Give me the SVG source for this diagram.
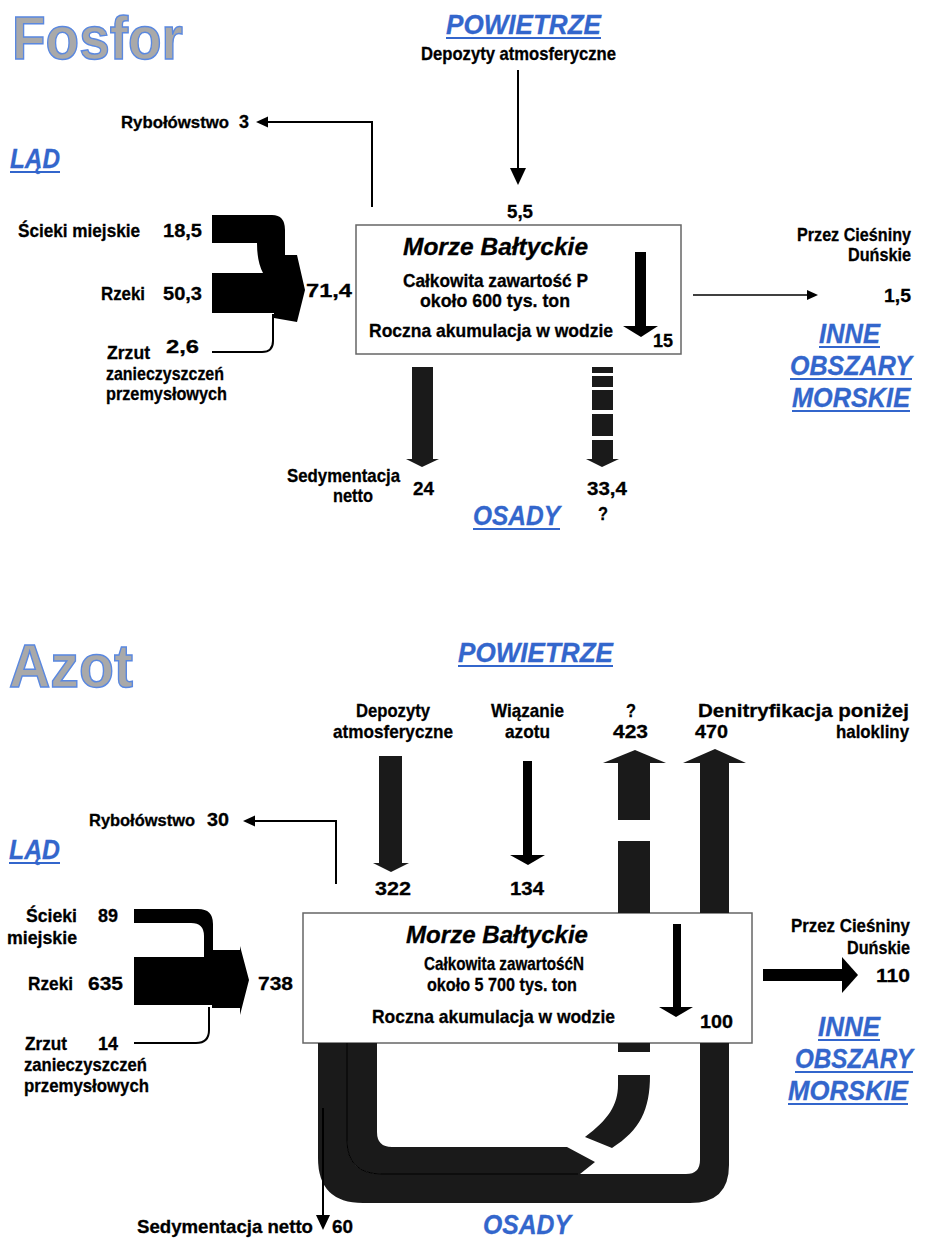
<svg xmlns="http://www.w3.org/2000/svg" width="929" height="1240" viewBox="0 0 929 1240">
<defs>
<style>
text{font-family:"Liberation Sans",Arial,Helvetica,sans-serif;font-weight:bold;font-size:19px;fill:#000;stroke:#000;stroke-width:0.3}
.ttl{font-size:62px;fill:#a9a9a9;stroke:#5a88e0;stroke-width:1.5}
.bl{font-style:italic;font-size:27px;fill:#3366cc;stroke:#3366cc;stroke-width:0.3}
.it{font-style:italic;font-size:24px}
.sm{font-size:16.5px}
.ul{fill:#3366cc}
.ln{fill:none;stroke:#000;stroke-width:2}
.thin{fill:none;stroke:#000;stroke-width:1.5}
.seam{fill:none;stroke:#000;stroke-width:1}
.fl{fill:#1a1a1a}
.bk{fill:#000}
.box{fill:#fff;stroke:#666;stroke-width:1.5}
</style>
</defs>
<rect width="929" height="1240" fill="#fff"/>

<!-- ================= FOSFOR ================= -->
<g id="title-p"><text class="ttl" x="12" y="59" textLength="171" lengthAdjust="spacingAndGlyphs">Fosfor</text></g>

<g id="air-p">
<text class="bl" x="446" y="34" textLength="155" lengthAdjust="spacingAndGlyphs">POWIETRZE</text>
<rect class="ul" x="446" y="37" width="155" height="2"/>
<text x="421" y="60" textLength="195" lengthAdjust="spacingAndGlyphs">Depozyty atmosferyczne</text>
<text x="507" y="218" textLength="26" lengthAdjust="spacingAndGlyphs">5,5</text>
</g>

<g id="land-p">
<text class="bl" x="10" y="168" textLength="50" lengthAdjust="spacingAndGlyphs">LĄD</text>
<rect class="ul" x="10" y="171" width="50" height="2"/>
</g>

<g id="fishing-p">
<text class="sm" x="121" y="128" textLength="108" lengthAdjust="spacingAndGlyphs">Rybołówstwo</text>
<text x="239" y="128" textLength="10" lengthAdjust="spacingAndGlyphs">3</text>
</g>

<g id="sewage-p">
<text x="18" y="237" textLength="122" lengthAdjust="spacingAndGlyphs">Ścieki miejskie</text>
<text x="163" y="237" textLength="39" lengthAdjust="spacingAndGlyphs">18,5</text>
</g>
<g id="rivers-p">
<text x="101" y="300" textLength="44" lengthAdjust="spacingAndGlyphs">Rzeki</text>
<text x="163" y="300" textLength="39" lengthAdjust="spacingAndGlyphs">50,3</text>
</g>
<g id="industry-p">
<text x="107" y="359" textLength="43" lengthAdjust="spacingAndGlyphs">Zrzut</text>
<text x="166" y="353" textLength="33" lengthAdjust="spacingAndGlyphs">2,6</text>
<text x="106" y="380" textLength="118" lengthAdjust="spacingAndGlyphs">zanieczyszczeń</text>
<text x="106" y="400" textLength="121" lengthAdjust="spacingAndGlyphs">przemysłowych</text>
</g>
<g id="total-in-p"><text x="306" y="297" textLength="46" lengthAdjust="spacingAndGlyphs">71,4</text></g>

<g id="sea-p">
<rect class="box" x="356" y="225" width="325" height="129"/>
<text class="it" x="403" y="255" textLength="185" lengthAdjust="spacingAndGlyphs">Morze Bałtyckie</text>
<text x="403" y="287" textLength="185" lengthAdjust="spacingAndGlyphs">Całkowita zawartość P</text>
<text x="420" y="307" textLength="150" lengthAdjust="spacingAndGlyphs">około 600 tys. ton</text>
<text x="369" y="337" textLength="244" lengthAdjust="spacingAndGlyphs">Roczna akumulacja w wodzie</text>
<text x="653" y="347" textLength="20" lengthAdjust="spacingAndGlyphs">15</text>
</g>

<g id="other-seas-p">
<text x="797" y="241" textLength="114" lengthAdjust="spacingAndGlyphs">Przez Cieśniny</text>
<text x="848" y="261" textLength="63" lengthAdjust="spacingAndGlyphs">Duńskie</text>
<text x="884" y="302" textLength="27" lengthAdjust="spacingAndGlyphs">1,5</text>
<text class="bl" x="819" y="343" textLength="61" lengthAdjust="spacingAndGlyphs">INNE</text>
<rect class="ul" x="819" y="346" width="61" height="2"/>
<text class="bl" x="790" y="375" textLength="122" lengthAdjust="spacingAndGlyphs">OBSZARY</text>
<rect class="ul" x="790" y="378" width="122" height="2"/>
<text class="bl" x="792" y="407" textLength="118" lengthAdjust="spacingAndGlyphs">MORSKIE</text>
<rect class="ul" x="792" y="410" width="118" height="2"/>
</g>

<g id="sediments-p">
<text x="287" y="482" textLength="113" lengthAdjust="spacingAndGlyphs">Sedymentacja</text>
<text x="333" y="502" textLength="40" lengthAdjust="spacingAndGlyphs">netto</text>
<text x="413" y="495" textLength="21" lengthAdjust="spacingAndGlyphs">24</text>
<text x="587" y="495" textLength="40" lengthAdjust="spacingAndGlyphs">33,4</text>
<text x="598" y="520" textLength="10" lengthAdjust="spacingAndGlyphs">?</text>
<text class="bl" x="473" y="525" textLength="87" lengthAdjust="spacingAndGlyphs">OSADY</text>
<rect class="ul" x="473" y="528" width="87" height="2"/>
</g>

<g id="connectors-p">
<line class="ln" x1="518" y1="70" x2="518" y2="170"/>
<polygon class="bk" points="510,168 526,168 518,185"/>
<polyline class="ln" points="372,207 372,122 266,122"/>
<polygon class="bk" points="256,122 268,116.5 268,127.5"/>
<path class="bk" d="M212,215 H272 Q285,215 285,230 V255 H297 L305,290 L297,322 L274,318 V313 H212 V273 H263 Q257,262 257,243 H212 Z"/>
<path class="ln" d="M212,352 H262 Q273,352 273,341 V314"/>
<line class="thin" x1="693" y1="295" x2="808" y2="295"/>
<polygon class="bk" points="807,290 818,295 807,300"/>
<rect class="bk" x="635" y="252" width="11" height="75"/>
<polygon class="bk" points="623,326 658,326 641,337"/>
<rect class="fl" x="412" y="367" width="21" height="92"/>
<polygon class="fl" points="406,459 439,459 422,467"/>
<rect class="fl" x="592" y="367" width="21" height="6"/>
<rect class="fl" x="592" y="376" width="21" height="11"/>
<rect class="fl" x="592" y="390" width="21" height="20"/>
<rect class="fl" x="592" y="414" width="21" height="22"/>
<rect class="fl" x="592" y="440" width="21" height="20"/>
<polygon class="fl" points="586,459 619,459 602,467"/>
</g>

<!-- ================= AZOT ================= -->
<g id="title-n"><text class="ttl" x="9" y="687" textLength="124" lengthAdjust="spacingAndGlyphs">Azot</text></g>

<g id="air-n">
<text class="bl" x="458" y="662" textLength="155" lengthAdjust="spacingAndGlyphs">POWIETRZE</text>
<rect class="ul" x="458" y="665" width="155" height="2"/>
</g>

<g id="deposition-n">
<text x="356" y="717" textLength="74" lengthAdjust="spacingAndGlyphs">Depozyty</text>
<text x="333" y="738" textLength="120" lengthAdjust="spacingAndGlyphs">atmosferyczne</text>
<text x="375" y="895" textLength="36" lengthAdjust="spacingAndGlyphs">322</text>
</g>
<g id="fixation-n">
<text x="491" y="717" textLength="73" lengthAdjust="spacingAndGlyphs">Wiązanie</text>
<text x="505" y="738" textLength="45" lengthAdjust="spacingAndGlyphs">azotu</text>
<text x="510" y="895" textLength="34" lengthAdjust="spacingAndGlyphs">134</text>
</g>
<g id="unknown-n">
<text x="626" y="717" textLength="10" lengthAdjust="spacingAndGlyphs">?</text>
<text x="613" y="738" textLength="35" lengthAdjust="spacingAndGlyphs">423</text>
</g>
<g id="denitrification-n">
<text x="698" y="717" textLength="211" lengthAdjust="spacingAndGlyphs">Denitryfikacja poniżej</text>
<text x="695" y="738" textLength="33" lengthAdjust="spacingAndGlyphs">470</text>
<text x="836" y="738" textLength="73" lengthAdjust="spacingAndGlyphs">halokliny</text>
</g>

<g id="land-n">
<text class="bl" x="9" y="859" textLength="51" lengthAdjust="spacingAndGlyphs">LĄD</text>
<rect class="ul" x="9" y="862" width="51" height="2"/>
</g>
<g id="fishing-n">
<text class="sm" x="89" y="826" textLength="106" lengthAdjust="spacingAndGlyphs">Rybołówstwo</text>
<text x="207" y="826" textLength="22" lengthAdjust="spacingAndGlyphs">30</text>
</g>
<g id="sewage-n">
<text x="26" y="922" textLength="51" lengthAdjust="spacingAndGlyphs">Ścieki</text>
<text x="98" y="922" textLength="20" lengthAdjust="spacingAndGlyphs">89</text>
<text x="7" y="944" textLength="70" lengthAdjust="spacingAndGlyphs">miejskie</text>
</g>
<g id="rivers-n">
<text x="28" y="990" textLength="45" lengthAdjust="spacingAndGlyphs">Rzeki</text>
<text x="88" y="990" textLength="35" lengthAdjust="spacingAndGlyphs">635</text>
</g>
<g id="industry-n">
<text x="25" y="1050" textLength="42" lengthAdjust="spacingAndGlyphs">Zrzut</text>
<text x="98" y="1050" textLength="20" lengthAdjust="spacingAndGlyphs">14</text>
<text x="24" y="1071" textLength="123" lengthAdjust="spacingAndGlyphs">zanieczyszczeń</text>
<text x="24" y="1092" textLength="125" lengthAdjust="spacingAndGlyphs">przemysłowych</text>
</g>
<g id="total-in-n"><text x="258" y="990" textLength="35" lengthAdjust="spacingAndGlyphs">738</text></g>

<g id="sea-n">
<rect class="box" x="303" y="913" width="449" height="130"/>
<text class="it" x="406" y="943" textLength="182" lengthAdjust="spacingAndGlyphs">Morze Bałtyckie</text>
<text x="424" y="970" textLength="160" lengthAdjust="spacingAndGlyphs">Całkowita zawartośćN</text>
<text x="427" y="991" textLength="150" lengthAdjust="spacingAndGlyphs">około 5 700 tys. ton</text>
<text x="372" y="1023" textLength="243" lengthAdjust="spacingAndGlyphs">Roczna akumulacja w wodzie</text>
<text x="700" y="1028" textLength="33" lengthAdjust="spacingAndGlyphs">100</text>
</g>

<g id="other-seas-n">
<text x="791" y="932" textLength="119" lengthAdjust="spacingAndGlyphs">Przez Cieśniny</text>
<text x="847" y="954" textLength="63" lengthAdjust="spacingAndGlyphs">Duńskie</text>
<text x="876" y="982" textLength="34" lengthAdjust="spacingAndGlyphs">110</text>
<text class="bl" x="818" y="1036" textLength="62" lengthAdjust="spacingAndGlyphs">INNE</text>
<rect class="ul" x="818" y="1039" width="62" height="2"/>
<text class="bl" x="795" y="1068" textLength="118" lengthAdjust="spacingAndGlyphs">OBSZARY</text>
<rect class="ul" x="795" y="1071" width="118" height="2"/>
<text class="bl" x="788" y="1100" textLength="120" lengthAdjust="spacingAndGlyphs">MORSKIE</text>
<rect class="ul" x="788" y="1103" width="120" height="2"/>
</g>

<g id="sediments-n">
<text x="137" y="1233" textLength="176" lengthAdjust="spacingAndGlyphs">Sedymentacja netto</text>
<text x="332" y="1233" textLength="21" lengthAdjust="spacingAndGlyphs">60</text>
<text class="bl" x="483" y="1234" textLength="88" lengthAdjust="spacingAndGlyphs">OSADY</text>
</g>

<g id="connectors-n">
<rect class="fl" x="379" y="756" width="23" height="107"/>
<polygon class="fl" points="373,863 409,863 391,872"/>
<rect class="bk" x="523" y="761" width="9" height="94"/>
<polygon class="bk" points="510,855 545,855 528,865"/>
<polyline class="ln" points="336,884 336,821 253,821"/>
<polygon class="bk" points="243,821 255,815.5 255,826.5"/>
<path class="bk" d="M134,909 H198 Q213,909 213,924 V950 H240 V946 L249,980 L240,1015 V1008 H212 V1005 H134 V957 H204 V936 Q204,923 191,923 H134 Z"/>
<path class="ln" d="M134,1043 H196 Q209,1043 209,1030 V1007"/>
<rect class="bk" x="763" y="969" width="80" height="12"/>
<polygon class="bk" points="842,957 858,975 842,993"/>
<rect class="bk" x="673" y="924" width="8" height="84"/>
<polygon class="bk" points="659,1007 693,1007 676,1017"/>
<!-- uncertain flow (?) 423 -->
<rect class="fl" x="618" y="763" width="32" height="57"/>
<polygon class="fl" points="603,763 635,750 666,763"/>
<rect class="fl" x="618" y="841" width="32" height="72"/>
<rect class="fl" x="618" y="1043" width="32" height="9"/>
<path class="fl" d="M618,1075 H650 C650,1110 640,1130 612,1148 L585,1137 C608,1120 618,1105 618,1085 Z"/>
<path class="fl" d="M347,1043 V1140 Q347,1174 382,1174 H580 L595,1162 L567,1147 H392 Q377,1147 377,1132 V1043 Z"/>
<!-- denitrification loop 470 -->
<path class="fl" d="M700,913 V763 H683 L715,749 L746,763 H729 V913 Z"/>
<path class="fl" d="M318,1043 V1158 Q318,1203 363,1203 H690 Q729,1203 729,1165 V1043 H700 V1160 Q700,1174 686,1174 H382 Q347,1174 347,1140 V1043 Z"/>
<path class="seam" d="M347,1043 V1140 Q347,1174 382,1174 H578"/>
<!-- net sedimentation -->
<line class="ln" x1="323" y1="1108" x2="323" y2="1217"/>
<polygon class="bk" points="316,1215 330,1215 323,1230"/>
</g>
</svg>
